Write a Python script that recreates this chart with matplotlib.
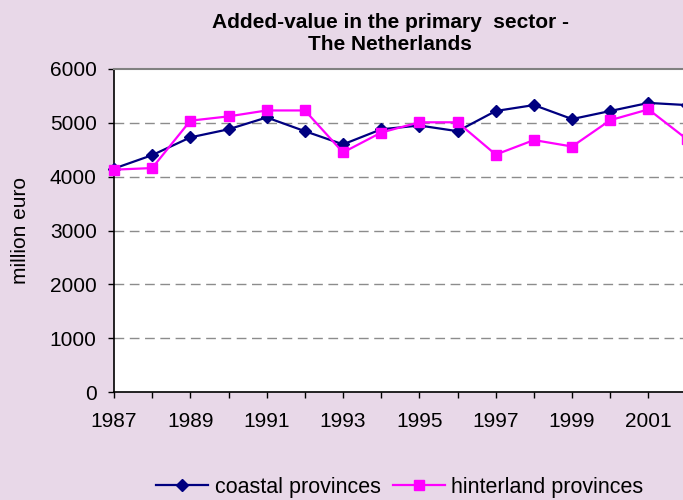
import matplotlib
matplotlib.use('Agg')
import matplotlib.pyplot as plt

plt.rcParams['font.family'] = ['Liberation Sans', 'DejaVu Sans']

years = [1987, 1988, 1989, 1990, 1991, 1992, 1993, 1994, 1995,
         1996, 1997, 1998, 1999, 2000, 2001, 2002]
coastal = [4150, 4400, 4730, 4880, 5100, 4845, 4600, 4880, 4950,
           4845, 5220, 5330, 5070, 5220, 5370, 5330]
hinterland = [4130, 4160, 5040, 5120, 5230, 5230, 4450, 4820, 5010,
              5010, 4410, 4680, 4560, 5050, 5250, 4700]
yticks = [0, 1000, 2000, 3000, 4000, 5000, 6000]

bg = '#E8D8E8'
fig = plt.figure(figsize=(6.83, 5.0), dpi=100, facecolor=bg)
# plot area runs off the right edge of the picture, as in the reference
ax = fig.add_axes([114 / 683, 108 / 500, 649 / 683, 323 / 500])
ax.set_facecolor('white')

ax.plot(years, coastal, color='#000080', lw=1.6, marker='D', ms=6.2,
        label='coastal provinces', clip_on=False, zorder=3)
ax.plot(years, hinterland, color='#FF00FF', lw=1.6, marker='s', ms=6.5,
        label='hinterland provinces', clip_on=False, zorder=4)

ax.set_xlim(1987, 2004)
ax.set_ylim(0, 6000)
ax.set_yticks(yticks)
ax.set_xticks(range(1987, 2003))
ax.set_xticklabels([str(y) if (y - 1987) % 2 == 0 else '' for y in range(1987, 2003)])
ax.tick_params(axis='both', direction='out', length=4.5, width=1, labelsize=15)
ax.tick_params(axis='x', pad=10)
ax.tick_params(axis='y', pad=8)

for v in yticks[1:-1]:
    ax.axhline(v, color='#8c8c8c', lw=1, ls=(0, (7, 4)), zorder=1)

ax.spines['top'].set_color('#808080')
ax.spines['top'].set_linewidth(1.5)
ax.spines['right'].set_visible(False)
ax.spines['left'].set_linewidth(1.2)
ax.spines['bottom'].set_linewidth(1.2)

ax.set_ylabel('million euro', fontsize=15, labelpad=14)

fig.text(390 / 683, 1 - 33 / 500, 'Added-value in the primary  sector -\nThe Netherlands',
         ha='center', va='center', fontsize=15, fontweight='bold', linespacing=1.2)

fig.legend(loc='center', bbox_to_anchor=(400 / 683, 13 / 500), ncol=2, frameon=False,
           fontsize=15.5, handlelength=2.4, handletextpad=0.3, columnspacing=0.6,
           borderaxespad=0, borderpad=0)

fig.savefig('out.png', dpi=100, facecolor=bg)
